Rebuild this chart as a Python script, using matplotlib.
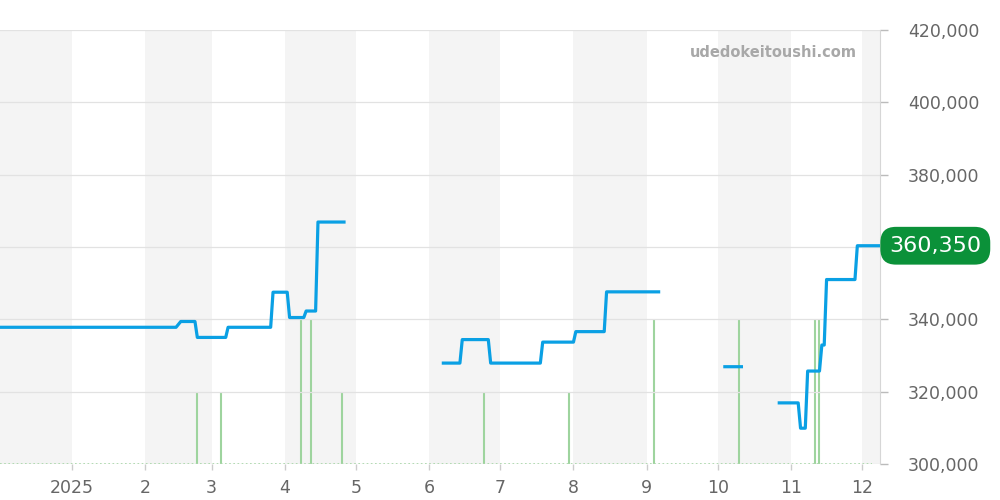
import numpy as np
import pandas as pd
import matplotlib
matplotlib.use("Agg")
import matplotlib.pyplot as plt
import matplotlib.dates as mdates
from matplotlib.ticker import FuncFormatter, FixedLocator
from matplotlib.transforms import blended_transform_factory

# ── data ──────────────────────────────────────────────────────────────────────
# price line, NaN rows split the line into separate runs
PRICE_DATES = [
    "2024-12-01", "2025-02-14", "2025-02-16", "2025-02-22", "2025-02-23",
    "2025-03-07", "2025-03-08", "2025-03-26", "2025-03-27", "2025-04-02",
    "2025-04-03", "2025-04-09", "2025-04-10", "2025-04-14", "2025-04-15",
    "2025-04-26",
    "2025-05-20",
    "2025-06-07", "2025-06-14", "2025-06-15", "2025-06-26", "2025-06-27",
    "2025-07-18", "2025-07-19", "2025-08-01", "2025-08-02", "2025-08-14",
    "2025-08-15", "2025-09-06",
    "2025-09-20",
    "2025-10-04", "2025-10-11",
    "2025-10-20",
    "2025-10-27", "2025-11-04", "2025-11-05", "2025-11-07", "2025-11-08",
    "2025-11-13", "2025-11-14", "2025-11-15", "2025-11-16", "2025-11-28",
    "2025-11-29", "2025-12-09",
]
PRICE_VALUES = [
    337800, 337800, 339400, 339400, 335000,
    335000, 337800, 337800, 347500, 347500,
    340500, 340500, 342300, 342300, 366900,
    366900,
    np.nan,
    327900, 327900, 334400, 334400, 327900,
    327900, 333700, 333700, 336600, 336600,
    347600, 347600,
    np.nan,
    326900, 326900,
    np.nan,
    316900, 316900, 309900, 309900, 325700,
    325700, 332900, 332900, 351000, 351000,
    360350, 360350,
]

# green spikes (listing count per day)
COUNT_DATES = ["2025-02-23", "2025-03-05", "2025-04-08", "2025-04-12", "2025-04-25",
               "2025-06-24", "2025-07-30", "2025-09-04", "2025-10-10", "2025-11-11",
               "2025-11-13"]
COUNT_VALUES = [1, 1, 2, 2, 1, 1, 1, 2, 2, 2, 2]

Y_TICKS = [300000, 320000, 340000, 360000, 380000, 400000, 420000]
X_START, X_END = "2024-12-01 14:00", "2025-12-08 14:00"
WATERMARK = "udedokeitoushi.com"

# ── style ─────────────────────────────────────────────────────────────────────
BLUE = "#0aa0e4"
GREEN_LINE = "#9ed49e"
GREEN_BOX = "#0b9139"
BAND = "#f4f4f4"
GRID = "#e2e2e2"
TXT = "#666666"

plt.rcParams["font.family"] = ["DejaVu Sans"]

pdates = pd.to_datetime(PRICE_DATES)
cdates = pd.to_datetime(COUNT_DATES)
x0, x1 = pd.Timestamp(X_START), pd.Timestamp(X_END)
last = PRICE_VALUES[-1]

fig = plt.figure(figsize=(10, 5), dpi=100)
ax = fig.add_axes([0.0, 0.072, 0.88, 0.868])
ax2 = ax.twinx()

# price axes on top, count axes behind it
ax.set_zorder(2)
ax.patch.set_visible(False)
ax2.set_zorder(1)

# alternating month bands
months = pd.date_range("2024-12-01", "2026-01-01", freq="MS")
for i in range(0, len(months) - 1, 2):
    ax2.axvspan(months[i], months[i + 1], color=BAND, lw=0, zorder=0)

ax2.vlines(cdates, 0, COUNT_VALUES, color=GREEN_LINE, lw=1.5, zorder=2)
ax2.axhline(0, xmax=0.991, color=GREEN_LINE, lw=1.2, ls=(0, (1, 1.5)), zorder=2)
ax2.set_ylim(0, 6)
ax2.set_yticks([])
for s in ax2.spines.values():
    s.set_visible(False)

ax.plot(pdates, PRICE_VALUES, color=BLUE, lw=2.3, zorder=5)

ax.set_xlim(x0, x1)
ax.set_ylim(Y_TICKS[0], Y_TICKS[-1])
ax2.set_xlim(x0, x1)

# y axis on the right; the tick label under the price badge is hidden
ax.yaxis.tick_right()
ax.yaxis.set_major_locator(FixedLocator(Y_TICKS))
ax.yaxis.set_major_formatter(FuncFormatter(
    lambda v, p: "" if abs(v - last) < 5000 else f"{v:,.0f}"))
ax.tick_params(axis="y", length=6, width=1, color="#bbbbbb", pad=14,
               labelsize=12.5, labelcolor=TXT)
ax.grid(axis="y", color=GRID, lw=0.9)

# x axis: month numbers, year on January
ax.xaxis.set_major_locator(mdates.MonthLocator())
ax.xaxis.set_major_formatter(FuncFormatter(
    lambda v, p: (lambda d: str(d.year) if d.month == 1 else str(d.month))(mdates.num2date(v))))
ax.tick_params(axis="x", length=4, width=1, color="#cccccc", pad=7,
               labelsize=12.5, labelcolor=TXT)

for side in ["top", "left", "bottom"]:
    ax.spines[side].set_visible(False)
ax.spines["right"].set_color("#d6d6d6")

# last price badge
tr = blended_transform_factory(ax.transAxes, ax.transData)
ax.text(1.0105, last, f"{last:,.0f}", transform=tr, ha="left", va="center",
        fontsize=16, color="white", clip_on=False, zorder=10,
        bbox=dict(boxstyle="round,pad=0.4,rounding_size=0.7", fc=GREEN_BOX, ec="none"))

ax.text(0.974, 0.949, WATERMARK, transform=ax.transAxes, ha="right", va="center",
        fontsize=10.5, fontweight="bold", color="#a8a8a8", zorder=10)

fig.savefig("out.png", dpi=100)
